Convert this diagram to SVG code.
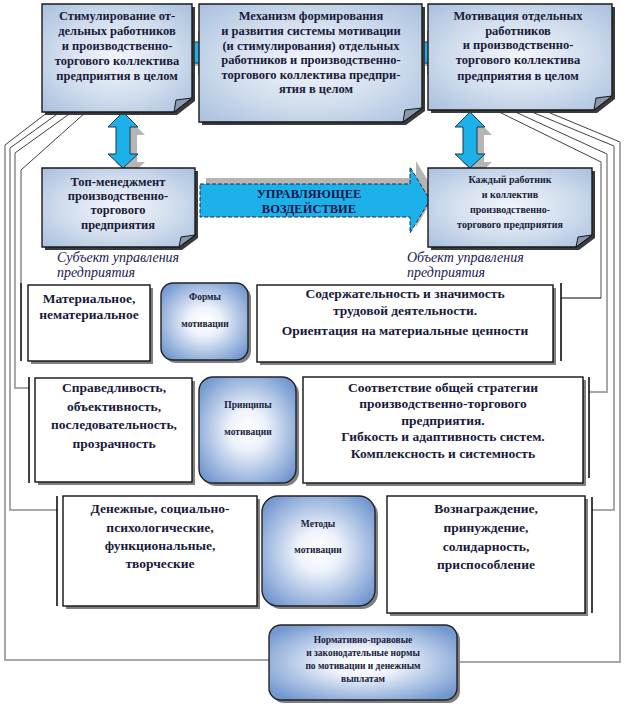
<svg xmlns="http://www.w3.org/2000/svg" width="627" height="706" viewBox="0 0 627 706" font-family="'Liberation Serif', 'Times New Roman', Tinos, 'DejaVu Serif', serif">
<style>
text{font-family:'Liberation Serif','Times New Roman',Tinos,'DejaVu Serif',serif;font-weight:bold;fill:#1a1a3a;text-anchor:middle}
.t12{font-size:12.5px}
.t13{font-size:13.5px}
.t10{font-size:10px}
.t9{font-size:9.5px}
.it{font-style:italic;font-weight:normal;font-size:14px;text-anchor:start;fill:#1a1a50}
.card{fill:url(#gCard);stroke:#1a1a1a;stroke-width:1.4}
.fold{fill:#8a98ae;stroke:#1a1a1a;stroke-width:1}
.shd{fill:#3a3a3a}
.wbox{fill:#fff;stroke:#111;stroke-width:1.4}
.wshd{fill:#808080}
.rbox{fill:url(#gRound);stroke:#222;stroke-width:1.4}
.arr{fill:#1db1ea;stroke:#1f3550;stroke-width:1}
.ashd{fill:#b5b5b5}
.diag{fill:none;stroke:#2a2a2a;stroke-width:0.9}
.gl{fill:none;stroke:#a8a8a8;stroke-width:2}
.br{fill:none;stroke:#000;stroke-width:1.5}
</style>
<defs>
<radialGradient id="gCard" cx="50%" cy="50%" r="70%">
<stop offset="0" stop-color="#f2f6fb"/>
<stop offset="0.5" stop-color="#d3dfee"/>
<stop offset="1" stop-color="#a9c0de"/>
</radialGradient>
<radialGradient id="gRound" cx="50%" cy="50%" r="62%">
<stop offset="0" stop-color="#ffffff"/>
<stop offset="0.3" stop-color="#eef3fb"/>
<stop offset="1" stop-color="#7398d0"/>
</radialGradient>
</defs>

<g id="connectors">
<polyline class="diag" points="48,112 5,145"/>
<polyline class="gl" points="5,145 5,660 270,660"/>
<polyline class="diag" points="60,112 10,148"/>
<polyline class="gl" points="10,148 10,510 57,510"/>
<polyline class="diag" points="72,112 15,153"/>
<polyline class="gl" points="15,153 15,388 29,388"/>
<polyline class="diag" points="86,112 21,170"/>
<polyline class="gl" points="21,170 21,283"/>
<line class="br" x1="21" y1="283" x2="21" y2="361"/>
<line class="br" x1="29" y1="377" x2="29" y2="483"/>
<line class="br" x1="57" y1="496" x2="57" y2="606"/>
<polyline class="diag" points="543,110 620,142"/>
<polyline class="gl" points="620,142 620,662 458,662"/>
<polyline class="diag" points="527,110 614,146"/>
<polyline class="gl" points="614,146 614,510 592,510"/>
<polyline class="diag" points="511,110 607,154"/>
<polyline class="gl" points="607,154 607,392 589,392"/>
<polyline class="diag" points="495,110 601,162"/>
<polyline class="gl" points="601,162 601,298"/>
<line class="br" x1="601" y1="298" x2="561" y2="298" style="stroke-width:1.2"/>
<line class="br" x1="561" y1="283" x2="561" y2="361"/>
<line class="br" x1="589" y1="377" x2="589" y2="478"/>
<line class="br" x1="592" y1="497" x2="592" y2="613"/>
</g>

<g id="arrows">
<polygon class="ashd" points="190,45 206,45 206,35 216,56 206,78 206,66 190,66"/>
<polygon class="arr" points="183,42 199,42 199,31 209,53 199,75 199,63 183,63"/>
<polygon class="ashd" points="419,45 435,45 435,35 445,56 435,78 435,66 419,66"/>
<polygon class="arr" points="412,42 428,42 428,31 438,53 428,75 428,63 412,63"/>
<polygon class="ashd" points="130,120 145,135 137,135 137,162 145,162 130,176 115,162 123,162 123,135 115,135"/>
<polygon class="arr" points="123,112 138,127 130,127 130,154 138,154 123,168 108,154 116,154 116,127 108,127"/>
<polygon class="ashd" points="477,120 492,135 484,135 484,162 492,162 477,176 462,162 470,162 470,135 462,135"/>
<polygon class="arr" points="470,112 485,127 477,127 477,154 485,154 470,168 455,154 463,154 463,127 455,127"/>
</g>

<g id="box1">
<path class="shd" d="M45 7H195V101L177 115H45Z"/>
<path class="card" d="M42 4H192V98L174 112H42Z"/>
<path class="fold" d="M174 112L192 98L176 100Z"/>
<text class="t12" x="117" y="20">Стимулирование от-</text>
<text class="t12" x="117" y="35">дельных работников</text>
<text class="t12" x="117" y="50">и производственно-</text>
<text class="t12" x="117" y="65">торгового коллектива</text>
<text class="t12" x="117" y="80">предприятия в целом</text>
</g>

<g id="box2">
<path class="shd" d="M202 7H425V111L406 125H202Z"/>
<path class="card" d="M199 4H422V108L403 122H199Z"/>
<path class="fold" d="M403 122L422 108L405 110Z"/>
<text class="t12" x="311" y="20">Механизм формирования</text>
<text class="t12" x="311" y="35">и развития системы мотивации</text>
<text class="t12" x="311" y="50">(и стимулирования) отдельных</text>
<text class="t12" x="311" y="64">работников и производственно-</text>
<text class="t12" x="311" y="79">торгового коллектива предпри-</text>
<text class="t12" x="316" y="93">ятия в целом</text>
</g>

<g id="box3">
<path class="shd" d="M431 7H615V99L597 113H431Z"/>
<path class="card" d="M428 4H612V96L594 110H428Z"/>
<path class="fold" d="M594 110L612 96L596 98Z"/>
<text class="t12" x="518" y="20">Мотивация отдельных</text>
<text class="t12" x="518" y="35">работников</text>
<text class="t12" x="518" y="49">и производственно-</text>
<text class="t12" x="518" y="64">торгового коллектива</text>
<text class="t12" x="518" y="80">предприятия в целом</text>
</g>

<g id="influence">
<polygon class="ashd" points="206,178 416,178 416,161 436,194 416,227 416,211 206,211"/>
<polygon class="arr" points="200,184 410,184 410,167 430,200 410,233 410,217 200,217" style="stroke-dasharray:4 2;stroke:#1c2a48"/>
<text class="t12" x="309" y="198" style="fill:#16164a">УПРАВЛЯЮЩЕЕ</text>
<text class="t12" x="309" y="213" style="fill:#16164a">ВОЗДЕЙСТВИЕ</text>
</g>

<g id="subject">
<path class="shd" d="M45 171H198V238L182 250H45Z"/>
<path class="card" d="M42 168H195V235L179 247H42Z"/>
<path class="fold" d="M179 247L195 235L181 237Z"/>
<text class="t12" x="118" y="186">Топ-менеджмент</text>
<text class="t12" x="118" y="200">производственно-</text>
<text class="t12" x="118" y="214">торгового</text>
<text class="t12" x="118" y="229">предприятия</text>
<text class="it" x="57" y="262">Субъект управления</text>
<text class="it" x="57" y="277">предприятия</text>
</g>

<g id="object">
<path class="shd" d="M431 171H595V238L579 250H431Z"/>
<path class="card" d="M428 168H592V235L576 247H428Z"/>
<path class="fold" d="M576 247L592 235L578 237Z"/>
<text class="t10" x="510" y="183">Каждый работник</text>
<text class="t10" x="510" y="198">и коллектив</text>
<text class="t10" x="510" y="213">производственно-</text>
<text class="t10" x="510" y="228">торгового предприятия</text>
<text class="it" x="407" y="262">Объект управления</text>
<text class="it" x="407" y="277">предприятия</text>
</g>

<g id="forms-left">
<rect class="wshd" x="31" y="288" width="122" height="76"/>
<rect class="wbox" x="28" y="285" width="122" height="76"/>
<text class="t13" x="89" y="303">Материальное,</text>
<text class="t13" x="89" y="319">нематериальное</text>
</g>
<g id="forms">
<rect class="wshd" x="164" y="286" width="87" height="77" rx="12"/>
<rect class="rbox" x="161" y="283" width="87" height="77" rx="12"/>
<text class="t9" x="205" y="300">Формы</text>
<text class="t9" x="205" y="327">мотивации</text>
</g>
<g id="forms-right">
<rect class="wshd" x="260" y="288" width="296" height="77"/>
<rect class="wbox" x="257" y="285" width="296" height="77"/>
<text class="t13" x="405" y="298">Содержательность и значимость</text>
<text class="t13" x="405" y="315">трудовой деятельности.</text>
<text class="t13" x="405" y="335">Ориентация на материальные ценности</text>
</g>

<g id="principles-left">
<rect class="wshd" x="38" y="381" width="157" height="104"/>
<rect class="wbox" x="35" y="378" width="157" height="104"/>
<text class="t13" x="114" y="392">Справедливость,</text>
<text class="t13" x="114" y="411">объективность,</text>
<text class="t13" x="114" y="429">последовательность,</text>
<text class="t13" x="114" y="448">прозрачность</text>
</g>
<g id="principles">
<rect class="wshd" x="202" y="380" width="97" height="106" rx="14"/>
<rect class="rbox" x="199" y="377" width="97" height="106" rx="14"/>
<text class="t9" x="248" y="408">Принципы</text>
<text class="t9" x="248" y="435">мотивации</text>
</g>
<g id="principles-right">
<rect class="wshd" x="306" y="380" width="280" height="106"/>
<rect class="wbox" x="303" y="377" width="280" height="106"/>
<text class="t13" x="443" y="392">Соответствие общей стратегии</text>
<text class="t13" x="443" y="408">производственно-торгового</text>
<text class="t13" x="443" y="425">предприятия.</text>
<text class="t13" x="443" y="441">Гибкость и адаптивность систем.</text>
<text class="t13" x="443" y="458">Комплексность и системность</text>
</g>

<g id="methods-left">
<rect class="wshd" x="66" y="499" width="194" height="110"/>
<rect class="wbox" x="63" y="496" width="194" height="110"/>
<text class="t13" x="160" y="513">Денежные, социально-</text>
<text class="t13" x="160" y="532">психологические,</text>
<text class="t13" x="160" y="550">функциональные,</text>
<text class="t13" x="160" y="568">творческие</text>
</g>
<g id="methods">
<rect class="wshd" x="265" y="499" width="113" height="110" rx="16"/>
<rect class="rbox" x="262" y="496" width="113" height="110" rx="16"/>
<text class="t9" x="318" y="527">Методы</text>
<text class="t9" x="318" y="553">мотивации</text>
</g>
<g id="methods-right">
<rect class="wshd" x="390" y="499" width="198" height="117"/>
<rect class="wbox" x="387" y="496" width="198" height="117"/>
<text class="t13" x="486" y="513">Вознаграждение,</text>
<text class="t13" x="486" y="532">принуждение,</text>
<text class="t13" x="486" y="551">солидарность,</text>
<text class="t13" x="486" y="569">приспособление</text>
</g>

<g id="norms">
<rect class="wshd" x="272" y="628" width="188" height="75" rx="12"/>
<rect class="rbox" x="269" y="625" width="188" height="75" rx="12"/>
<text class="t9" x="363" y="643">Нормативно-правовые</text>
<text class="t9" x="363" y="656">и законодательные нормы</text>
<text class="t9" x="363" y="669">по мотивации и денежным</text>
<text class="t9" x="363" y="682">выплатам</text>
</g>
</svg>
